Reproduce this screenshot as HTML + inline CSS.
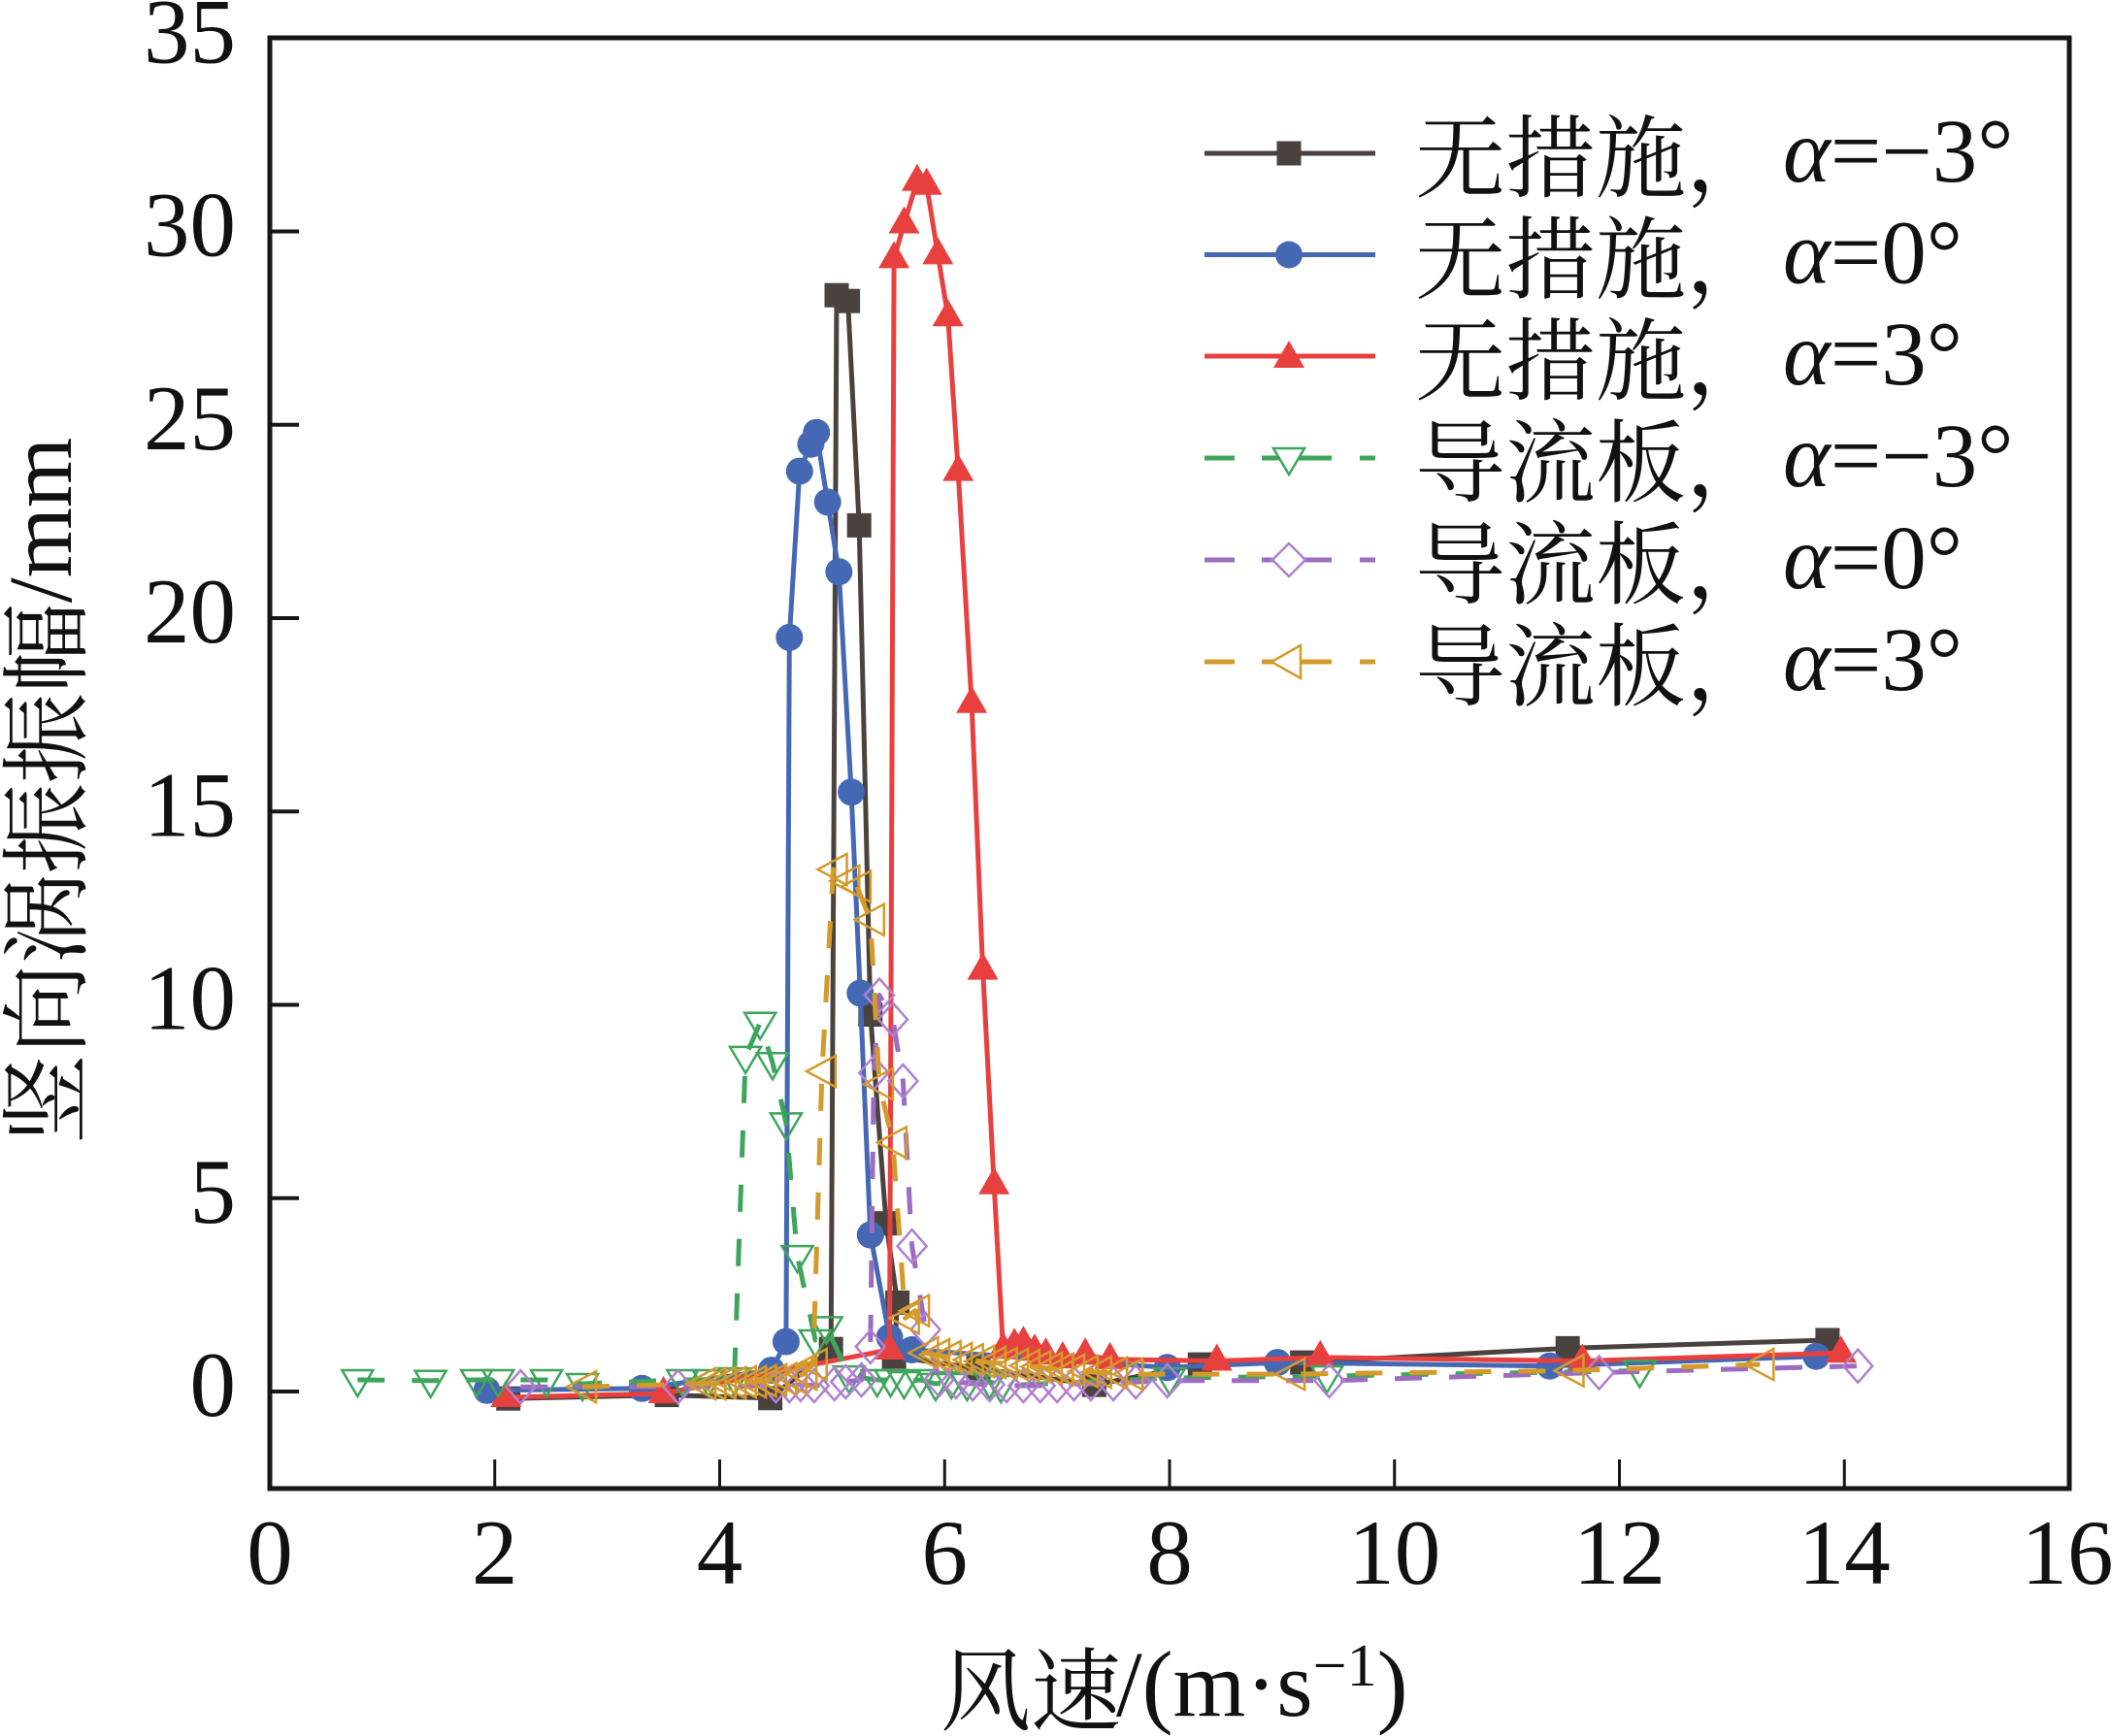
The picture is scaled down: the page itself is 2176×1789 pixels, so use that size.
<!DOCTYPE html>
<html>
<head>
<meta charset="utf-8">
<style>
html,body{margin:0;padding:0;background:#fff;}
svg{display:block;}
.tk{font-family:"Liberation Serif","Times New Roman",serif;font-size:95px;fill:#111;}
.cjk{font-family:"Liberation Serif","Noto Serif CJK SC","Noto Sans CJK SC",serif;font-size:93px;fill:#111;}
.lat{font-family:"Liberation Serif","Times New Roman",serif;font-size:93px;fill:#111;}
</style>
</head>
<body>
<svg width="2176" height="1789" viewBox="0 0 2176 1789" xmlns="http://www.w3.org/2000/svg">
<defs>
<rect id="sq" x="-12.5" y="-12.5" width="25" height="25" fill="#4a423e"/>
<circle id="ci" r="14" fill="#4468b4"/>
<polygon id="tu" points="0,-18 16,10 -16,10" fill="#e8403f"/>
<polygon id="td" points="-16,-10 16,-10 0,17" fill="none" stroke="#3fa55c" stroke-width="2.5"/>
<polygon id="dm" points="0,-17 15,0 0,17 -15,0" fill="none" stroke="#b080d0" stroke-width="2.5"/>
<polygon id="tl" points="-16,0 14,-16 14,16" fill="none" stroke="#d49a2a" stroke-width="2.5"/>
</defs>
<rect width="2176" height="1789" fill="#fff"/>

<!-- Black series -->
<polyline fill="none" stroke="#4a423e" stroke-width="5" stroke-linejoin="round" points="523.7,1441.2 687.0,1437.6 793.6,1440.8 856.2,1390.2 862.0,304.2 873.6,310.2 885.2,541.4 896.8,1045.5 913.0,1260.7 924.6,1342.3 921.1,1398.1 1008.0,1410.1 1127.4,1427.2 1236.3,1406.1 1341.7,1404.1 1615.2,1389.4 1882.9,1381.0"/>
<g>
<use href="#sq" x="523.7" y="1441.2"/><use href="#sq" x="687.0" y="1437.6"/><use href="#sq" x="793.6" y="1440.8"/><use href="#sq" x="856.2" y="1390.2"/><use href="#sq" x="862.0" y="304.2"/><use href="#sq" x="873.6" y="310.2"/><use href="#sq" x="885.2" y="541.4"/><use href="#sq" x="896.8" y="1045.5"/><use href="#sq" x="913.0" y="1260.7"/><use href="#sq" x="924.6" y="1342.3"/><use href="#sq" x="921.1" y="1398.1"/><use href="#sq" x="1008.0" y="1410.1"/><use href="#sq" x="1127.4" y="1427.2"/><use href="#sq" x="1236.3" y="1406.1"/><use href="#sq" x="1341.7" y="1404.1"/><use href="#sq" x="1615.2" y="1389.4"/><use href="#sq" x="1882.9" y="1381.0"/>
</g>

<!-- Blue series -->
<polyline fill="none" stroke="#4468b4" stroke-width="5" stroke-linejoin="round" points="501.6,1432.8 661.5,1430.8 794.8,1412.1 809.9,1382.6 813.3,656.9 823.8,485.6 835.4,457.7 841.2,445.7 852.7,517.4 864.3,589.2 877.1,816.3 886.3,1023.5 896.8,1272.6 916.5,1378.2 939.6,1391.0 1202.7,1409.3 1316.2,1404.1 1596.7,1407.7 1871.3,1397.7"/>
<g>
<use href="#ci" x="501.6" y="1432.8"/><use href="#ci" x="661.5" y="1430.8"/><use href="#ci" x="794.8" y="1412.1"/><use href="#ci" x="809.9" y="1382.6"/><use href="#ci" x="813.3" y="656.9"/><use href="#ci" x="823.8" y="485.6"/><use href="#ci" x="835.4" y="457.7"/><use href="#ci" x="841.2" y="445.7"/><use href="#ci" x="852.7" y="517.4"/><use href="#ci" x="864.3" y="589.2"/><use href="#ci" x="877.1" y="816.3"/><use href="#ci" x="886.3" y="1023.5"/><use href="#ci" x="896.8" y="1272.6"/><use href="#ci" x="916.5" y="1378.2"/><use href="#ci" x="939.6" y="1391.0"/><use href="#ci" x="1202.7" y="1409.3"/><use href="#ci" x="1316.2" y="1404.1"/><use href="#ci" x="1596.7" y="1407.7"/><use href="#ci" x="1871.3" y="1397.7"/>
</g>

<!-- Red series -->
<polyline fill="none" stroke="#e8403f" stroke-width="5" stroke-linejoin="round" points="521.3,1440.0 683.6,1436.0 916.5,1391.0 921.1,266.4 931.5,230.5 944.9,186.7 954.7,190.7 966.3,262.4 976.7,326.2 987.2,485.6 1001.1,724.7 1012.6,999.6 1024.2,1220.8 1033.5,1390.2 1045.1,1386.2 1054.4,1384.2 1066.0,1392.2 1077.5,1396.1 1094.9,1400.1 1118.1,1396.1 1143.6,1400.9 1253.7,1402.5 1360.3,1398.9 1630.3,1402.5 1896.8,1394.2"/>
<g>
<use href="#tu" x="521.3" y="1440.0"/><use href="#tu" x="683.6" y="1436.0"/><use href="#tu" x="916.5" y="1391.0"/><use href="#tu" x="921.1" y="266.4"/><use href="#tu" x="931.5" y="230.5"/><use href="#tu" x="944.9" y="186.7"/><use href="#tu" x="954.7" y="190.7"/><use href="#tu" x="966.3" y="262.4"/><use href="#tu" x="976.7" y="326.2"/><use href="#tu" x="987.2" y="485.6"/><use href="#tu" x="1001.1" y="724.7"/><use href="#tu" x="1012.6" y="999.6"/><use href="#tu" x="1024.2" y="1220.8"/><use href="#tu" x="1033.5" y="1390.2"/><use href="#tu" x="1045.1" y="1386.2"/><use href="#tu" x="1054.4" y="1384.2"/><use href="#tu" x="1066.0" y="1392.2"/><use href="#tu" x="1077.5" y="1396.1"/><use href="#tu" x="1094.9" y="1400.1"/><use href="#tu" x="1118.1" y="1396.1"/><use href="#tu" x="1143.6" y="1400.9"/><use href="#tu" x="1253.7" y="1402.5"/><use href="#tu" x="1360.3" y="1398.9"/><use href="#tu" x="1630.3" y="1402.5"/><use href="#tu" x="1896.8" y="1394.2"/>
</g>

<!-- Green series -->
<polyline fill="none" stroke="#3fa55c" stroke-width="5" stroke-dasharray="28 28" stroke-linejoin="round" points="368.4,1422.0 443.7,1422.8 491.2,1422.0 513.2,1422.0 563.1,1422.0 600.1,1426.0 703.3,1422.0 729.9,1422.0 756.6,1420.1 768.1,1088.9 783.2,1053.8 796.0,1095.3 809.9,1157.4 821.5,1294.1 840.0,1381.0 851.6,1367.4 874.8,1418.1 903.7,1422.0 917.6,1422.0 931.5,1424.0 947.8,1422.0 964.0,1426.0 980.2,1424.0 996.4,1426.0 1019.6,1424.0 1031.2,1428.0 1205,1420.1 1367.2,1418.1 1689.4,1412.5"/>
<g>
<use href="#td" x="368.4" y="1422.0"/><use href="#td" x="443.7" y="1422.8"/><use href="#td" x="491.2" y="1422.0"/><use href="#td" x="513.2" y="1422.0"/><use href="#td" x="563.1" y="1422.0"/><use href="#td" x="600.1" y="1426.0"/><use href="#td" x="703.3" y="1422.0"/><use href="#td" x="729.9" y="1422.0"/><use href="#td" x="756.6" y="1420.1"/><use href="#td" x="768.1" y="1088.9"/><use href="#td" x="783.2" y="1053.8"/><use href="#td" x="796.0" y="1095.3"/><use href="#td" x="809.9" y="1157.4"/><use href="#td" x="821.5" y="1294.1"/><use href="#td" x="840.0" y="1381.0"/><use href="#td" x="851.6" y="1367.4"/><use href="#td" x="874.8" y="1418.1"/><use href="#td" x="903.7" y="1422.0"/><use href="#td" x="917.6" y="1422.0"/><use href="#td" x="931.5" y="1424.0"/><use href="#td" x="947.8" y="1422.0"/><use href="#td" x="964.0" y="1426.0"/><use href="#td" x="980.2" y="1424.0"/><use href="#td" x="996.4" y="1426.0"/><use href="#td" x="1019.6" y="1424.0"/><use href="#td" x="1031.2" y="1428.0"/><use href="#td" x="1205" y="1420.1"/><use href="#td" x="1367.2" y="1418.1"/><use href="#td" x="1689.4" y="1412.5"/>
</g>

<!-- Purple series -->
<polyline fill="none" stroke="#9b6cc0" stroke-width="5" stroke-dasharray="28 28" stroke-linejoin="round" points="536.4,1429.2 698.6,1429.2 799.4,1428.0 813.3,1428.0 824.9,1426.8 838.8,1428.0 859.7,1426.0 871.3,1424.0 887.5,1422.0 896.8,1387.8 900.3,1105.6 906.0,1025.5 919.9,1050.6 930.4,1114.0 939.6,1284.2 953.5,1370.2 967.4,1422.0 984.8,1424.0 1002.2,1426.0 1019.6,1426.8 1037.0,1428.0 1054.4,1428.0 1071.7,1428.0 1089.1,1428.0 1106.5,1426.0 1123.9,1426.0 1147.1,1426.0 1170.2,1424.0 1202.7,1422.8 1369.5,1422.8 1647.6,1414.5 1914.2,1407.7"/>
<g>
<use href="#dm" x="536.4" y="1429.2"/><use href="#dm" x="698.6" y="1429.2"/><use href="#dm" x="799.4" y="1428.0"/><use href="#dm" x="813.3" y="1428.0"/><use href="#dm" x="824.9" y="1426.8"/><use href="#dm" x="838.8" y="1428.0"/><use href="#dm" x="859.7" y="1426.0"/><use href="#dm" x="871.3" y="1424.0"/><use href="#dm" x="887.5" y="1422.0"/><use href="#dm" x="896.8" y="1387.8"/><use href="#dm" x="900.3" y="1105.6"/><use href="#dm" x="906.0" y="1025.5"/><use href="#dm" x="919.9" y="1050.6"/><use href="#dm" x="930.4" y="1114.0"/><use href="#dm" x="939.6" y="1284.2"/><use href="#dm" x="953.5" y="1370.2"/><use href="#dm" x="967.4" y="1422.0"/><use href="#dm" x="984.8" y="1424.0"/><use href="#dm" x="1002.2" y="1426.0"/><use href="#dm" x="1019.6" y="1426.8"/><use href="#dm" x="1037.0" y="1428.0"/><use href="#dm" x="1054.4" y="1428.0"/><use href="#dm" x="1071.7" y="1428.0"/><use href="#dm" x="1089.1" y="1428.0"/><use href="#dm" x="1106.5" y="1426.0"/><use href="#dm" x="1123.9" y="1426.0"/><use href="#dm" x="1147.1" y="1426.0"/><use href="#dm" x="1170.2" y="1424.0"/><use href="#dm" x="1202.7" y="1422.8"/><use href="#dm" x="1369.5" y="1422.8"/><use href="#dm" x="1647.6" y="1414.5"/><use href="#dm" x="1914.2" y="1407.7"/>
</g>

<!-- Gold series -->
<polyline fill="none" stroke="#d49a2a" stroke-width="5" stroke-dasharray="28 28" stroke-linejoin="round" points="600.1,1429.2 723.0,1426.0 733.4,1426.0 743.8,1425.0 754.2,1425.0 764.7,1424.0 775.1,1424.0 785.5,1423.0 796.0,1422.0 806.4,1421.0 816.8,1420.0 827.2,1416.1 837.7,1406.1 846.9,1104.0 858.5,896.0 871.3,908.0 882.9,913.6 896.8,947.8 906.0,1117.2 919.9,1177.4 932.7,1358.3 943.1,1350.7 952.4,1394.2 964.0,1396.1 975.6,1398.1 987.2,1400.1 998.7,1401.3 1010.3,1402.9 1021.9,1404.1 1033.5,1405.3 1045.1,1406.1 1056.7,1407.3 1068.3,1408.5 1079.9,1410.1 1091.4,1410.9 1103.0,1412.1 1116.9,1413.3 1130.8,1414.1 1147.1,1414.9 1163.3,1416.1 1330.1,1416.1 1617.5,1412.5 1813.3,1406.1"/>
<g>
<use href="#tl" x="600.1" y="1429.2"/><use href="#tl" x="723.0" y="1426.0"/><use href="#tl" x="733.4" y="1426.0"/><use href="#tl" x="743.8" y="1425.0"/><use href="#tl" x="754.2" y="1425.0"/><use href="#tl" x="764.7" y="1424.0"/><use href="#tl" x="775.1" y="1424.0"/><use href="#tl" x="785.5" y="1423.0"/><use href="#tl" x="796.0" y="1422.0"/><use href="#tl" x="806.4" y="1421.0"/><use href="#tl" x="816.8" y="1420.0"/><use href="#tl" x="827.2" y="1416.1"/><use href="#tl" x="837.7" y="1406.1"/><use href="#tl" x="846.9" y="1104.0"/><use href="#tl" x="858.5" y="896.0"/><use href="#tl" x="871.3" y="908.0"/><use href="#tl" x="882.9" y="913.6"/><use href="#tl" x="896.8" y="947.8"/><use href="#tl" x="906.0" y="1117.2"/><use href="#tl" x="919.9" y="1177.4"/><use href="#tl" x="932.7" y="1358.3"/><use href="#tl" x="943.1" y="1350.7"/><use href="#tl" x="952.4" y="1394.2"/><use href="#tl" x="964.0" y="1396.1"/><use href="#tl" x="975.6" y="1398.1"/><use href="#tl" x="987.2" y="1400.1"/><use href="#tl" x="998.7" y="1401.3"/><use href="#tl" x="1010.3" y="1402.9"/><use href="#tl" x="1021.9" y="1404.1"/><use href="#tl" x="1033.5" y="1405.3"/><use href="#tl" x="1045.1" y="1406.1"/><use href="#tl" x="1056.7" y="1407.3"/><use href="#tl" x="1068.3" y="1408.5"/><use href="#tl" x="1079.9" y="1410.1"/><use href="#tl" x="1091.4" y="1410.9"/><use href="#tl" x="1103.0" y="1412.1"/><use href="#tl" x="1116.9" y="1413.3"/><use href="#tl" x="1130.8" y="1414.1"/><use href="#tl" x="1147.1" y="1414.9"/><use href="#tl" x="1163.3" y="1416.1"/><use href="#tl" x="1330.1" y="1416.1"/><use href="#tl" x="1617.5" y="1412.5"/><use href="#tl" x="1813.3" y="1406.1"/>
</g>

<!-- Axes frame and ticks -->
<rect x="278" y="39" width="1854" height="1495" fill="none" stroke="#161616" stroke-width="5"/>
<g stroke="#161616" stroke-width="4">
<line x1="278" y1="1434" x2="308" y2="1434"/>
<line x1="278" y1="1234.75" x2="308" y2="1234.75"/>
<line x1="278" y1="1035.5" x2="308" y2="1035.5"/>
<line x1="278" y1="836.25" x2="308" y2="836.25"/>
<line x1="278" y1="637" x2="308" y2="637"/>
<line x1="278" y1="437.75" x2="308" y2="437.75"/>
<line x1="278" y1="238.5" x2="308" y2="238.5"/>
</g>
<g stroke="#161616" stroke-width="3">
<line x1="509.75" y1="1534" x2="509.75" y2="1504"/>
<line x1="741.5" y1="1534" x2="741.5" y2="1504"/>
<line x1="973.25" y1="1534" x2="973.25" y2="1504"/>
<line x1="1205" y1="1534" x2="1205" y2="1504"/>
<line x1="1436.75" y1="1534" x2="1436.75" y2="1504"/>
<line x1="1668.5" y1="1534" x2="1668.5" y2="1504"/>
<line x1="1900.25" y1="1534" x2="1900.25" y2="1504"/>
</g>

<!-- Y tick labels -->
<g class="tk" text-anchor="end">
<text x="243" y="1459">0</text>
<text x="243" y="1259.75">5</text>
<text x="243" y="1060.5">10</text>
<text x="243" y="861.25">15</text>
<text x="243" y="662">20</text>
<text x="243" y="462.75">25</text>
<text x="243" y="263.5">30</text>
<text x="243" y="64.25">35</text>
</g>
<!-- X tick labels -->
<g class="tk" text-anchor="middle">
<text x="278" y="1632">0</text>
<text x="509.75" y="1632">2</text>
<text x="741.5" y="1632">4</text>
<text x="973.25" y="1632">6</text>
<text x="1205" y="1632">8</text>
<text x="1436.75" y="1632">10</text>
<text x="1668.5" y="1632">12</text>
<text x="1900.25" y="1632">14</text>
<text x="2130" y="1632">16</text>
</g>

<!-- Axis titles -->
<text class="cjk" x="969" y="1776">风速</text>
<text class="lat" x="1150" y="1768" style="font-size:96px">/(m·s<tspan dy="-31" style="font-size:62px">−1</tspan><tspan dy="31" style="font-size:96px">)</tspan></text>

<g transform="translate(73,815) rotate(-90)">
<text class="lat" x="0" y="0" text-anchor="middle"><tspan class="cjk" dy="8">竖向涡振振幅</tspan><tspan dy="-8">/mm</tspan></text>
</g>

<!-- Legend -->
<g stroke-width="5" fill="none">
<line x1="1241" y1="158" x2="1417" y2="158" stroke="#4a423e"/>
<line x1="1241" y1="262.5" x2="1417" y2="262.5" stroke="#4468b4"/>
<line x1="1241" y1="367" x2="1417" y2="367" stroke="#e8403f"/>
<path d="M1241 472H1272M1300 472H1372M1401 472H1417" stroke="#3fa55c"/>
<path d="M1241 577H1272M1300 577H1372M1401 577H1417" stroke="#9b6cc0"/>
<path d="M1241 682H1272M1300 682H1372M1401 682H1417" stroke="#d49a2a"/>
</g>
<use href="#sq" x="1328" y="158"/>
<use href="#ci" x="1328" y="262.5"/>
<use href="#tu" x="1328" y="369"/>
<polygon points="1312,462 1344,462 1328,489" fill="#fff" stroke="#3fa55c" stroke-width="2.5"/>
<polygon points="1328,560 1345,577 1328,594 1311,577" fill="#fff" stroke="#b080d0" stroke-width="2.5"/>
<polygon points="1310,682 1340,665 1340,699" fill="#fff" stroke="#d49a2a" stroke-width="2.5"/>

<text class="cjk" x="1458" y="196">无措施，</text>
<text class="lat" x="1837" y="187"><tspan font-style="italic">α</tspan>=−3°</text>
<text class="cjk" x="1458" y="300.5">无措施，</text>
<text class="lat" x="1837" y="291.5"><tspan font-style="italic">α</tspan>=0°</text>
<text class="cjk" x="1458" y="405">无措施，</text>
<text class="lat" x="1837" y="396"><tspan font-style="italic">α</tspan>=3°</text>
<text class="cjk" x="1458" y="510">导流板，</text>
<text class="lat" x="1837" y="501"><tspan font-style="italic">α</tspan>=−3°</text>
<text class="cjk" x="1458" y="615">导流板，</text>
<text class="lat" x="1837" y="606"><tspan font-style="italic">α</tspan>=0°</text>
<text class="cjk" x="1458" y="720">导流板，</text>
<text class="lat" x="1837" y="711"><tspan font-style="italic">α</tspan>=3°</text>
</svg>
</body>
</html>
